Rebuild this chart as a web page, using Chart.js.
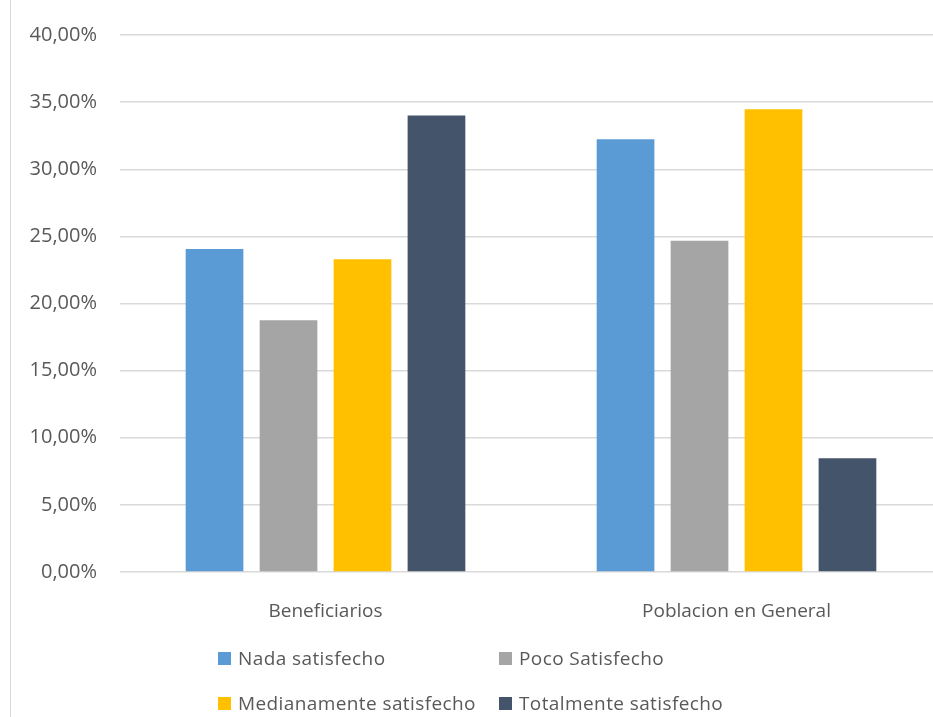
<!DOCTYPE html>
<html>
<head>
<meta charset="utf-8">
<script src="https://cdn.jsdelivr.net/npm/chart.js@4"></script>
<style>
  html, body { margin: 0; padding: 0; background: #fff; overflow: hidden; }
  body { width: 933px; height: 717px; position: relative; font-family: 'Open Sans', sans-serif; }
  #frame { position: absolute; left: 10px; top: 0; width: 1px; height: 717px; background: #d9d9d9; }
  #wrap { position: absolute; left: 0; top: 0; width: 942px; height: 640px; }
  #legend { position: absolute; left: 0; top: 0; width: 933px; height: 717px; pointer-events: none; }
  .item { position: absolute; display: flex; align-items: center; color: #595959; font-size: 19px; letter-spacing: 0.4px; white-space: nowrap; }
  .box { width: 13px; height: 13px; margin-right: 7px; }
</style>
</head>
<body>
<div id="frame"></div>
<div id="wrap"><canvas id="chart"></canvas></div>
<div id="legend"></div>
<script>
// ── Data (percent) ──
const categories = ['Beneficiarios', 'Poblacion en General'];
const nadaSatisfecho   = [24.06, 32.24];
const pocoSatisfecho   = [18.76, 24.68];
const medianamente     = [23.30, 34.46];
const totalmente       = [34.01, 8.48];
const seriesNames = ['Nada satisfecho', 'Poco Satisfecho', 'Medianamente satisfecho', 'Totalmente satisfecho'];
const yTicks = [0, 5, 10, 15, 20, 25, 30, 35, 40];

const COLORS = ['#5B9BD5', '#A5A5A5', '#FFC000', '#44546A'];
const TEXT = '#595959';
const GRID = '#d9d9d9';

const values = [nadaSatisfecho, pocoSatisfecho, medianamente, totalmente];

new Chart(document.getElementById('chart'), {
  type: 'bar',
  data: {
    labels: categories,
    datasets: seriesNames.map((name, i) => ({
      label: name,
      data: values[i],
      backgroundColor: COLORS[i],
      categoryPercentage: 0.72,
      barPercentage: 0.78,
    })),
  },
  options: {
    responsive: true,
    maintainAspectRatio: false,
    animation: false,
    layout: { padding: { top: 32, right: 0, left: 0, bottom: 0 } },
    plugins: { legend: { display: false }, tooltip: { enabled: false } },
    scales: {
      x: {
        grid: { display: false },
        border: { display: false },
        ticks: { color: TEXT, font: { family: "'Open Sans', sans-serif", size: 19 }, padding: 20 },
        afterFit: s => { s.height = 68; },
      },
      y: {
        min: 0, max: 40,
        afterBuildTicks: s => { s.ticks = yTicks.map(v => ({ value: v })); },
        grid: { color: GRID, lineWidth: 1.5, drawTicks: false },
        border: { display: false },
        ticks: {
          color: TEXT,
          font: { family: "'Open Sans', sans-serif", size: 20 },
          padding: 23,
          callback: v => v.toFixed(2).replace('.', ',') + '%',
        },
        afterFit: s => { s.width = 120; },
      },
    },
  },
});

// Legend laid out in two fixed columns like the original
const legend = document.getElementById('legend');
const cols = [218, 499];
const rows = [658, 703];
seriesNames.forEach((name, i) => {
  const el = document.createElement('div');
  el.className = 'item';
  el.style.left = cols[i % 2] + 'px';
  el.style.top = (rows[Math.floor(i / 2)] - 13) + 'px';
  el.style.height = '26px';
  el.innerHTML = `<span class="box" style="background:${COLORS[i]}"></span><span>${name}</span>`;
  legend.appendChild(el);
});
</script>
</body>
</html>
